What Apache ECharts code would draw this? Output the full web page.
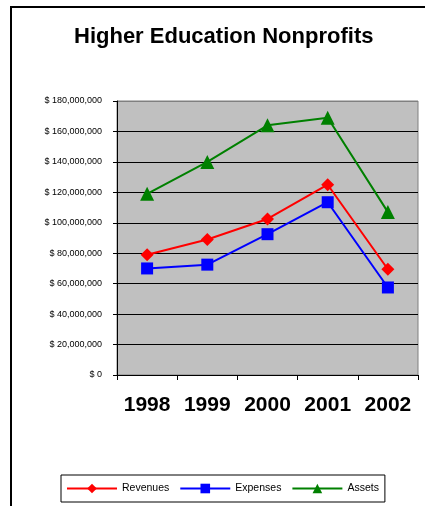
<!DOCTYPE html>
<html>
<head>
<meta charset="utf-8">
<script src="https://cdn.jsdelivr.net/npm/echarts@6/dist/echarts.min.js"></script>
<style>
  html, body { margin: 0; padding: 0; background: #fff; }
  #main { width: 425px; height: 506px; }
</style>
</head>
<body>
<div id="main"></div>
<script>
// chart data
const years = ['1998', '1999', '2000', '2001', '2002']
const revenues = [79000000, 89000000, 102500000, 125000000, 69500000]
const expenses = [70000000, 72500000, 92500000, 113500000, 57500000]
const assets = [119000000, 140000000, 164000000, 169000000, 107000000]
const yTicks = [0, 20000000, 40000000, 60000000, 80000000, 100000000, 120000000, 140000000, 160000000, 180000000]

const font = "'Liberation Sans', Arial, sans-serif"

function money(v) {
  return '$ ' + v.toLocaleString('en-US')
}

// gridlines black, top one matches the grey plot border
const gridColors = yTicks.map((t, i) => (i === yTicks.length - 1 ? '#808080' : '#000000'))

const myChart = echarts.init(document.getElementById('main'))
myChart.setOption({
  animation: false,
  backgroundColor: '#ffffff',
  textStyle: { fontFamily: font },
  graphic: [
    {
      // page frame (top and left edges visible)
      type: 'rect',
      shape: { x: 11, y: 7, width: 500, height: 600 },
      style: { fill: null, stroke: '#000', lineWidth: 2 },
      silent: true
    }
  ],
  title: {
    text: 'Higher Education Nonprofits',
    left: 69,
    top: 21,
    textStyle: { fontFamily: font, fontSize: 22, fontWeight: 'bold', color: '#000' }
  },
  legend: {
    left: 61,
    top: 475,
    itemWidth: 50,
    itemHeight: 12,
    itemGap: 10,
    padding: [8, 6, 8, 5],
    borderColor: '#000',
    borderWidth: 1,
    textStyle: { fontFamily: font, fontSize: 10.5, color: '#000' },
    data: ['Revenues', 'Expenses', 'Assets']
  },
  grid: {
    left: 117,
    right: 7,
    top: 101,
    bottom: 131,
    show: true,
    backgroundColor: '#C0C0C0',
    borderColor: '#808080',
    borderWidth: 1,
    containLabel: false
  },
  xAxis: {
    type: 'category',
    data: years,
    boundaryGap: true,
    axisLine: { lineStyle: { color: '#000', width: 1 } },
    axisTick: { show: true, interval: 0, length: 5, lineStyle: { color: '#000' } },
    axisLabel: { interval: 0, fontFamily: font, fontSize: 21, fontWeight: 'bold', color: '#000', margin: 20 }
  },
  yAxis: {
    type: 'value',
    min: 0,
    max: 180000000,
    interval: 20000000,
    axisLine: { show: true, lineStyle: { color: '#000', width: 1 } },
    axisTick: { show: true, length: 4, lineStyle: { color: '#000' } },
    axisLabel: { fontFamily: font, fontSize: 9, color: '#000', margin: 15, formatter: money },
    splitLine: { show: true, lineStyle: { color: gridColors, width: 1 } }
  },
  series: [
    {
      name: 'Revenues',
      type: 'line',
      data: revenues,
      symbol: 'diamond',
      symbolSize: 13,
      lineStyle: { color: '#FF0000', width: 2 },
      itemStyle: { color: '#FF0000' }
    },
    {
      name: 'Expenses',
      type: 'line',
      data: expenses,
      symbol: 'rect',
      symbolSize: 12,
      lineStyle: { color: '#0000FF', width: 2 },
      itemStyle: { color: '#0000FF' }
    },
    {
      name: 'Assets',
      type: 'line',
      data: assets,
      symbol: 'triangle',
      symbolSize: 14,
      lineStyle: { color: '#008000', width: 2 },
      itemStyle: { color: '#008000' }
    }
  ]
})
</script>
</body>
</html>
